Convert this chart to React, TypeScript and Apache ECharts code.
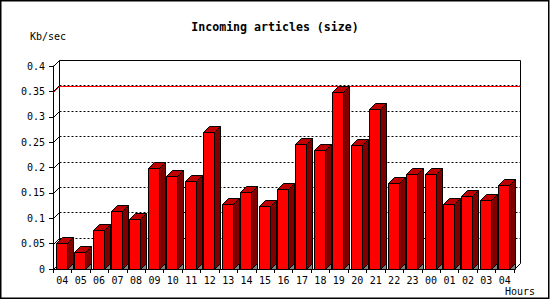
import React, { useEffect, useRef } from "react";
import * as echarts from "echarts";

const TITLE = "Incoming articles (size)";
const Y_UNIT = "Kb/sec";
const X_UNIT = "Hours";
const hours = ["04", "05", "06", "07", "08", "09", "10", "11", "12", "13", "14", "15", "16", "17", "18", "19", "20", "21", "22", "23", "00", "01", "02", "03", "04"];
const sizeKbps = [0.051, 0.034, 0.077, 0.114, 0.099, 0.199, 0.183, 0.174, 0.270, 0.128, 0.152, 0.124, 0.158, 0.247, 0.234, 0.348, 0.245, 0.316, 0.170, 0.187, 0.187, 0.128, 0.144, 0.136, 0.166];
const yTicks = [0, 0.05, 0.1, 0.15, 0.2, 0.25, 0.3, 0.35, 0.4];

const DEPTH = 6;
const MONO = "'DejaVu Sans Mono', 'Liberation Mono', monospace";

export default function App() {
  const ref = useRef<HTMLDivElement>(null);
  useEffect(() => {
    document.body.style.margin = "0";
    const chart = echarts.init(ref.current!, null, { renderer: "svg" });
    const maxVal = Math.max(...sizeKbps);
    const px = (v: number) => Math.round(v) + 0.5;

    const option: any = {
      animation: false,
      backgroundColor: "#ffffff",
      title: {
        text: TITLE,
        left: "center",
        top: 16,
        textStyle: { fontFamily: MONO, fontWeight: "bold", fontSize: 11.6, color: "#000" },
      },
      graphic: [
        {
          type: "rect",
          shape: { x: 0.75, y: 0.75, width: 548, height: 297.5 },
          style: { fill: "none", stroke: "#000", lineWidth: 1.5 },
          silent: true,
        },
        {
          type: "text",
          x: 30,
          y: 31,
          style: { text: Y_UNIT, fontFamily: MONO, fontSize: 10, fill: "#000" },
        },
        {
          type: "text",
          x: 505,
          y: 286,
          style: { text: X_UNIT, fontFamily: MONO, fontSize: 10, fill: "#000" },
        },
      ],
      grid: { left: 53, top: 66, right: 36, bottom: 31, containLabel: false },
      xAxis: {
        type: "category",
        data: hours,
        boundaryGap: true,
        axisLine: { show: true, lineStyle: { color: "#000", width: 1 } },
        axisTick: { show: true, length: 4, alignWithLabel: false, lineStyle: { color: "#000" } },
        axisLabel: { interval: 0, fontFamily: MONO, fontSize: 10, color: "#000", margin: 6 },
        splitLine: { show: false },
      },
      yAxis: {
        type: "value",
        min: 0,
        max: 0.4,
        interval: 0.05,
        axisLine: { show: true, lineStyle: { color: "#000", width: 1 } },
        axisTick: { show: true, length: 4, lineStyle: { color: "#000" } },
        axisLabel: { fontFamily: MONO, fontSize: 10, color: "#000", margin: 8 },
        splitLine: { show: false },
      },
      series: [
        {
          type: "custom",
          name: "frame",
          z: 1,
          silent: true,
          data: yTicks.map((v) => [0, v]),
          renderItem: (params: any, api: any) => {
            const cs = params.coordSys;
            const v = api.value(1);
            const y = api.coord([0, v])[1];
            const x0 = px(cs.x);
            const x1 = px(cs.x + cs.width);
            const yy = px(y);
            const children: any[] = [
              {
                type: "line",
                shape: { x1: x0, y1: yy, x2: x0 + DEPTH, y2: yy - DEPTH },
                style: { stroke: "#000", lineWidth: 1 },
              },
            ];
            const top = v >= 0.4 - 1e-9;
            if (v > 0) {
              children.push({
                type: "line",
                shape: { x1: x0 + DEPTH, y1: yy - DEPTH, x2: x1 + DEPTH, y2: yy - DEPTH },
                style: top
                  ? { stroke: "#000", lineWidth: 1 }
                  : { stroke: "#000", lineWidth: 1, lineDash: [2, 2] },
              });
            }
            if (top) {
              const yb = px(cs.y + cs.height);
              children.push(
                {
                  type: "line",
                  shape: { x1: x0 + DEPTH, y1: yy - DEPTH, x2: x0 + DEPTH, y2: yb - DEPTH },
                  style: { stroke: "#000", lineWidth: 1 },
                },
                {
                  type: "line",
                  shape: { x1: x1 + DEPTH, y1: yy - DEPTH, x2: x1 + DEPTH, y2: yb - DEPTH },
                  style: { stroke: "#000", lineWidth: 1 },
                },
                {
                  type: "line",
                  shape: { x1: x1, y1: yb, x2: x1 + DEPTH, y2: yb - DEPTH },
                  style: { stroke: "#000", lineWidth: 1 },
                }
              );
            }
            return { type: "group", children };
          },
        },
        {
          type: "custom",
          name: "max",
          z: 2,
          silent: true,
          data: [[0, maxVal]],
          renderItem: (params: any, api: any) => {
            const cs = params.coordSys;
            const y = px(api.coord([0, api.value(1)])[1]);
            const x0 = px(cs.x);
            const x1 = px(cs.x + cs.width);
            return {
              type: "polyline",
              shape: { points: [[x0, y], [x0 + DEPTH, y - DEPTH], [x1 + DEPTH, y - DEPTH]] },
              style: { stroke: "#ff0000", lineWidth: 1, fill: "none" },
            };
          },
        },
        {
          type: "custom",
          name: "size",
          z: 3,
          data: sizeKbps.map((v, i) => [i, v]),
          encode: { x: 0, y: 1 },
          renderItem: (params: any, api: any) => {
            const i = api.value(0);
            const v = api.value(1);
            const base = api.coord([i, 0]);
            const top = api.coord([i, v]);
            const bw = api.size([1, 0])[0];
            const w = Math.round(bw * 0.6);
            const xa = px(base[0] - w / 2 - 1);
            const xb = xa + w;
            const by = px(base[1]);
            const ty = px(top[1]);
            const d = DEPTH;
            const stroke = { stroke: "#000", lineWidth: 1 };
            return {
              type: "group",
              children: [
                {
                  type: "polygon",
                  shape: { points: [[xb, by], [xb + d, by - d], [xb + d, by]] },
                  style: { fill: "#808080", ...stroke },
                },
                {
                  type: "polygon",
                  shape: { points: [[xb, ty], [xb + d, ty - d], [xb + d, by - d], [xb, by]] },
                  style: { fill: "#800000", ...stroke },
                },
                {
                  type: "polygon",
                  shape: { points: [[xa, ty], [xa + d, ty - d], [xb + d, ty - d], [xb, ty]] },
                  style: { fill: "#c00000", ...stroke },
                },
                {
                  type: "rect",
                  shape: { x: xa, y: ty, width: w, height: by - ty },
                  style: { fill: "#ff0000", ...stroke },
                },
              ],
            };
          },
        },
      ],
    };
    chart.setOption(option);
    return () => chart.dispose();
  }, []);
  return (
    <div
      ref={ref}
      style={{ position: "fixed", left: 0, top: 0, width: 550, height: 300 }}
    />
  );
}
